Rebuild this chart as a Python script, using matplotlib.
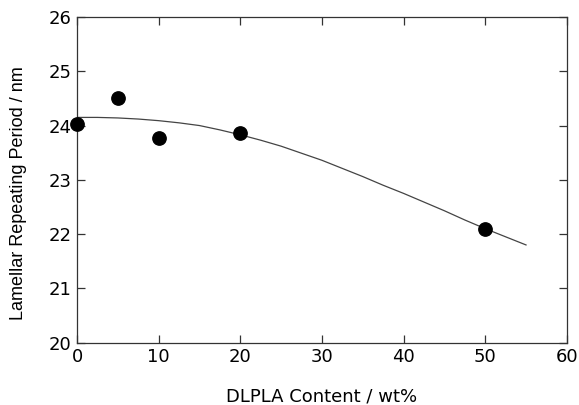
import matplotlib
matplotlib.use("Agg")
import matplotlib.pyplot as plt

# measured points
dlpla_wt = [0, 5, 10, 20, 50]
period_nm = [24.02, 24.50, 23.77, 23.86, 22.10]

# fit curve
fit_x = [0, 2.5, 5, 7.5, 10, 12.5, 15, 17.5, 20, 22.5, 25, 27.5, 30, 32.5, 35,
         37.5, 40, 42.5, 45, 47.5, 50, 52.5, 55]
fit_y = [24.15, 24.15, 24.14, 24.12, 24.09, 24.05, 24.00, 23.92, 23.83, 23.73,
         23.62, 23.49, 23.36, 23.21, 23.06, 22.90, 22.75, 22.59, 22.43, 22.26,
         22.10, 21.95, 21.80]

x_ticks = [0, 10, 20, 30, 40, 50, 60]
y_ticks = [20, 21, 22, 23, 24, 25, 26]

fig = plt.figure(figsize=(5.79, 4.05), dpi=100)
ax = fig.add_axes([0.133, 0.154, 0.846, 0.804])

ax.plot(fit_x, fit_y, color="#444444", linewidth=0.9, zorder=2)
ax.plot(dlpla_wt, period_nm, "o", color="black", markersize=9.6, zorder=3, clip_on=False)

ax.set_xlim(0, 60)
ax.set_ylim(20, 26)
ax.set_xticks(x_ticks)
ax.set_yticks(y_ticks)

for s in ax.spines.values():
    s.set_color("#333333")
    s.set_linewidth(0.9)

ax.tick_params(direction="in", length=6, width=0.9, color="#333333",
               top=True, right=True, labelsize=13, pad=4)

ax.set_xlabel("DLPLA Content / wt%", fontsize=13, labelpad=15.5)
ax.set_ylabel("Lamellar Repeating Period / nm", fontsize=13,
              family="Liberation Sans")
ax.yaxis.set_label_coords(-0.102, 0.46)

fig.savefig("out.png", dpi=100)
